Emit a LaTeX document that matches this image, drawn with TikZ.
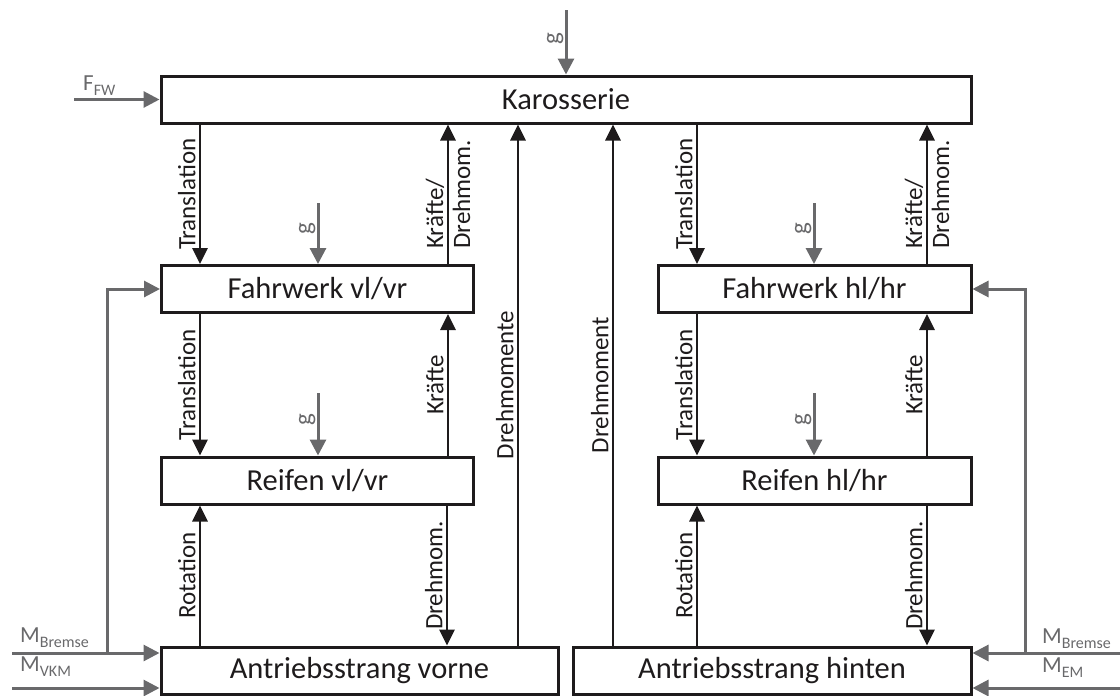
\documentclass[tikz,border=0pt]{standalone}
\usepackage{fontspec}
\setmainfont{Carlito}
\usetikzlibrary{arrows.meta,calc}
\definecolor{ink}{RGB}{30,27,28}
\definecolor{gr}{RGB}{105,105,107}
\newcommand\subtx[1]{\raisebox{-5pt}{\fontsize{16}{16}\selectfont #1}}
\begin{document}
\begin{tikzpicture}[x=1pt,y=-1pt,
 box/.style={draw=ink, line width=3pt, text=ink, minimum height=47pt, inner sep=0pt, font=\fontsize{30.5}{36}\selectfont},
 arr/.style={draw=ink, line width=2.8pt, -{Triangle[length=16pt,width=15pt]}},
 garr/.style={draw=gr, line width=3pt, -{Triangle[length=16pt,width=16pt]}},
 lab/.style={text=ink, font=\fontsize{25}{27}\selectfont, rotate=90, anchor=south, inner sep=3pt},
 clab/.style={text=ink, font=\fontsize{25}{27}\selectfont, rotate=90, anchor=center, align=left, inner sep=0pt},
 glab/.style={text=gr, font=\fontsize{25}{27}\selectfont, rotate=90, anchor=south, inner sep=1pt},
 inlab/.style={text=gr, font=\fontsize{23}{25}\selectfont, inner sep=0pt, anchor=base west},
]
\useasboundingbox (0,0) rectangle (1120,696);

% boxes
\node[box, minimum width=810pt] (kar) at (566,99.5) {Karosserie};
\node[box, minimum width=312pt] (fvl) at (317.5,289) {Fahrwerk vl/vr};
\node[box, minimum width=313pt] (fhl) at (814.5,289) {Fahrwerk hl/hr};
\node[box, minimum width=312pt] (rvl) at (317.5,480.5) {Reifen vl/vr};
\node[box, minimum width=313pt] (rhl) at (814.5,480.5) {Reifen hl/hr};
\node[box, minimum width=397pt] (avl) at (359.5,670.5) {Antriebsstrang vorne};
\node[box, minimum width=398pt] (ahl) at (772,670.5) {Antriebsstrang hinten};

% front column
\draw[arr] (kar.south -| 200,0) -- node[lab]{Translation} (fvl.north -| 200,0);
\draw[arr] (fvl.north -| 448,0) -- node[clab]{Kräfte/\\Drehmom.} (kar.south -| 448,0);
\draw[arr] (fvl.south -| 200,0) -- node[lab]{Translation} (rvl.north -| 200,0);
\draw[arr] (rvl.north -| 448,0) -- node[lab]{Kräfte} (fvl.south -| 448,0);
\draw[arr] (avl.north -| 200,0) -- node[lab]{Rotation} (rvl.south -| 200,0);
\draw[arr] (rvl.south -| 447,0) -- node[lab]{Drehmom.} (avl.north -| 447,0);
\draw[arr] (avl.north -| 518,0) -- node[lab]{Drehmomente} (kar.south -| 518,0);

% rear column
\draw[arr] (kar.south -| 697,0) -- node[lab]{Translation} (fhl.north -| 697,0);
\draw[arr] (fhl.north -| 927,0) -- node[clab]{Kräfte/\\Drehmom.} (kar.south -| 927,0);
\draw[arr] (fhl.south -| 697,0) -- node[lab]{Translation} (rhl.north -| 697,0);
\draw[arr] (rhl.north -| 927,0) -- node[lab]{Kräfte} (fhl.south -| 927,0);
\draw[arr] (ahl.north -| 697,0) -- node[lab]{Rotation} (rhl.south -| 697,0);
\draw[arr] (rhl.south -| 927,0) -- node[lab]{Drehmom.} (ahl.north -| 927,0);
\draw[arr] (ahl.north -| 613,0) -- node[lab]{Drehmoment} (kar.south -| 613,0);

% gravity inputs
\coordinate (g0) at (566,10);
\coordinate (g1) at (318,203);
\coordinate (g2) at (814,203);
\coordinate (g3) at (318,393);
\coordinate (g4) at (814,393);
\draw[garr] (g0) -- node[glab, pos=0.45]{g} (kar.north);
\draw[garr] (g1) -- node[glab, pos=0.42]{g} (fvl.north -| g1);
\draw[garr] (g2) -- node[glab, pos=0.42]{g} (fhl.north -| g2);
\draw[garr] (g3) -- node[glab, pos=0.42]{g} (rvl.north -| g3);
\draw[garr] (g4) -- node[glab, pos=0.42]{g} (rhl.north -| g4);

% external inputs
\coordinate (ffw) at (74,99.5);
\draw[garr] (ffw) -- (kar.west);
\node[inlab] (lffw) at (83,90) {F\subtx{FW}};

\coordinate (lb) at (12,653);
\coordinate (lbj) at (107,653);
\coordinate (lv) at (12,688);
\draw[garr] (lb) -- (avl.west |- lb);
\draw[garr] (lbj) |- (fvl.west);
\draw[garr] (lv) -- (avl.west |- lv);
\node[inlab] (llb) at (20,642) {M\subtx{Bremse}};
\node[inlab] (llv) at (20,671) {M\subtx{VKM}};

\coordinate (rb) at (1120,653);
\coordinate (rbj) at (1025,653);
\coordinate (rv) at (1120,688);
\draw[garr] (rb) -- (ahl.east |- rb);
\draw[garr] (rbj) |- (fhl.east);
\draw[garr] (rv) -- (ahl.east |- rv);
\node[inlab] (lrb) at (1042,643) {M\subtx{Bremse}};
\node[inlab] (lrv) at (1042,672) {M\subtx{EM}};
\end{tikzpicture}
\end{document}
